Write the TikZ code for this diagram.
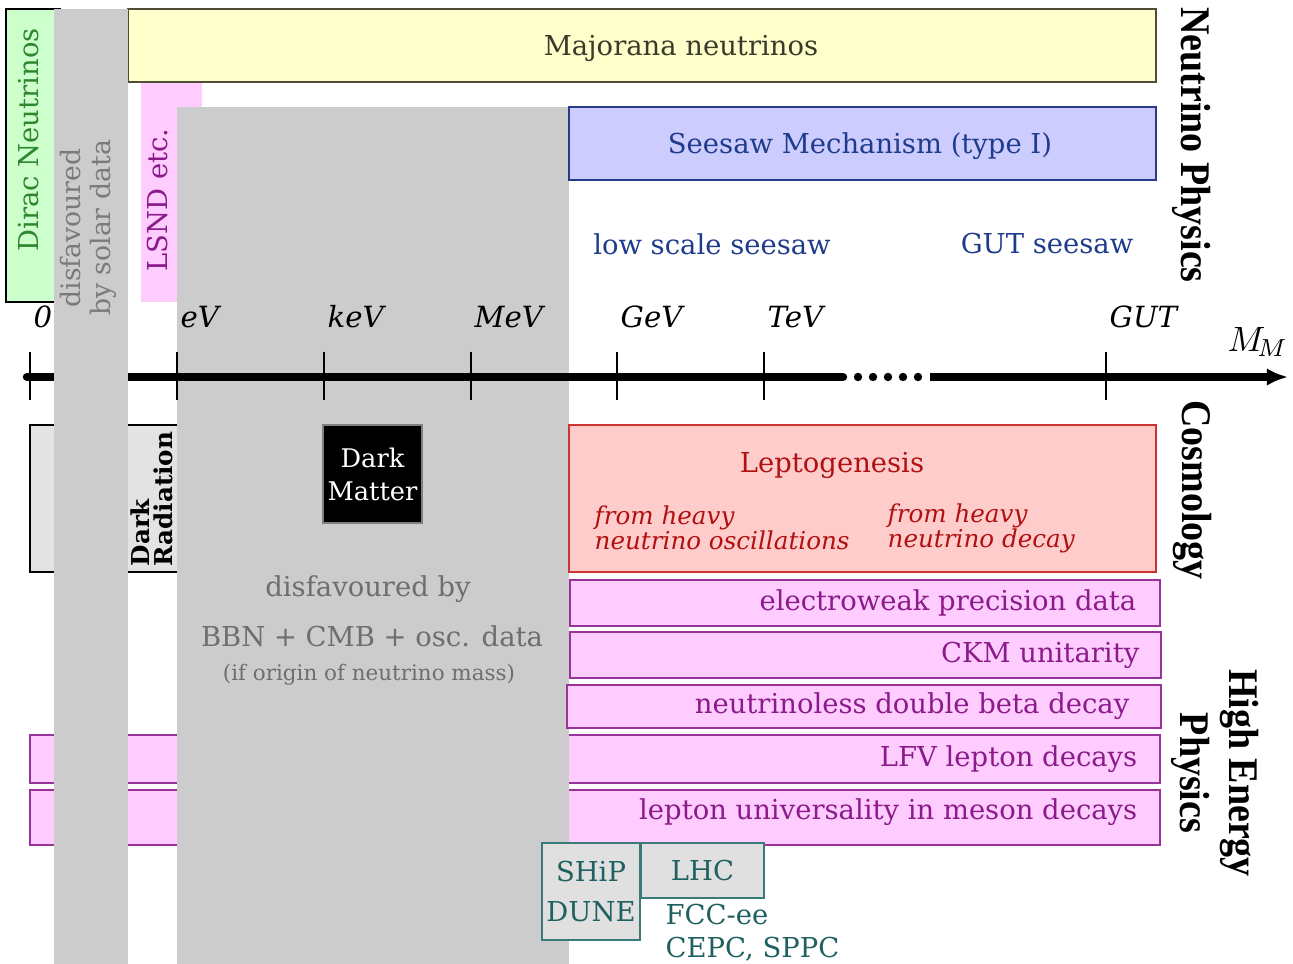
\documentclass[tikz,border=0pt]{standalone}
\usepackage{fontspec}
\setmainfont{DejaVu Serif}
\newfontfamily\headfont[FakeStretch=0.9]{Liberation Serif}
\usetikzlibrary{arrows.meta}

\definecolor{diracfill}{HTML}{CCFFCC}
\definecolor{diractext}{HTML}{2F862F}
\definecolor{majfill}{HTML}{FFFFCC}
\definecolor{majline}{HTML}{4D4D3A}
\definecolor{majtext}{HTML}{3A3A2A}
\definecolor{lsndfill}{HTML}{FFCCFF}
\definecolor{lsndtext}{HTML}{8A1A8A}
\definecolor{disfav}{HTML}{CCCCCC}
\definecolor{soltext}{HTML}{7A7A7A}
\definecolor{bbntext}{HTML}{6E6E6E}
\definecolor{seefill}{HTML}{CCCCFF}
\definecolor{seeline}{HTML}{2A3A8A}
\definecolor{seetext}{HTML}{1F3B8C}
\definecolor{cosmofill}{HTML}{E3E3E3}
\definecolor{leptofill}{HTML}{FFCCCC}
\definecolor{leptoline}{HTML}{CC3333}
\definecolor{leptotext}{HTML}{B01010}
\definecolor{hepfill}{HTML}{FFCCFF}
\definecolor{hepline}{HTML}{993399}
\definecolor{heptext}{HTML}{8B1A8B}
\definecolor{tealline}{HTML}{3A7A7A}
\definecolor{tealtext}{HTML}{1F6060}
\definecolor{tealfill}{HTML}{E0E0E0}

\newcommand{\tightlines}{\lineskiplimit=-5pt\relax}

\begin{document}
\begin{tikzpicture}[>={Latex[length=6pt,width=5pt]}, x=0.01cm, y=-0.01cm,
	box/.style={draw, line width=0.5pt},
	hep/.style={box, draw=hepline, fill=hepfill},
	txt/.style={font=\fontsize{7.8}{9}\selectfont, inner sep=0pt},
	heptxt/.style={txt, text=heptext, anchor=east},
	axlbl/.style={font=\itshape\fontsize{8.3}{9}\selectfont, inner sep=0pt, anchor=base west},
	axtick/.style={line width=0.6pt},
	side/.style={font=\headfont\bfseries\fontsize{12}{14}\selectfont, rotate=-90, inner sep=0pt, align=center},
	expbox/.style={draw=tealline, fill=tealfill, line width=0.6pt, text=tealtext, align=center, inner sep=0pt}]
%	%%%	Help Lines
%	\draw [thin, help lines, step=100] (0,0) grid (1293,964);
	\useasboundingbox (0,0) rectangle (1293,964);
	%%%	Neutrino Physics
	\draw[box, fill=diracfill] (6,9) rectangle (60,302);
	\draw[box, draw=majline, fill=majfill] (128,9) rectangle (1156,82);
	\fill[lsndfill] (141,83) rectangle (202,302);
	%%%	Cosmology, High Energy (left parts)
	\draw[box, fill=cosmofill] (30,425) rectangle (190,572);
	\draw[hep] (30,735) rectangle (1160,783);
	\draw[hep] (30,790) rectangle (1160,845);
	%%%	BBN + CMB
	\fill[disfav] (177,107) rectangle (569,964);
	\draw[box, draw=seeline, fill=seefill] (569,107) rectangle (1156,180);
	\draw[box, draw=leptoline, fill=leptofill] (569,425) rectangle (1156,572);
	\draw[hep] (570,580) rectangle (1160,626);
	\draw[hep] (570,632) rectangle (1161,678);
	\draw[hep] (567,685) rectangle (1161,728);
	%%%	Axis
	\coordinate (a0) at (27,377);
	\coordinate (a1) at (843,377);
	\coordinate (a2) at (930,377);
	\coordinate (a3) at (1288,377);
	\draw[line width=2.4pt, line cap=round] (a0) -- (a1);
	\foreach \x in {858,873,...,918}
	\fill (\x,377) circle (1.2pt);
	\draw[->, line width=2.4pt] (a2) -- (a3);
	\foreach \x in {30,177,324,471,617,764,1106}
	\draw[axtick] (\x,352) -- (\x,400);
	\foreach \x/\l in {33/0,180/eV,327/keV,474/MeV,620/GeV,767/TeV,1109/GUT}
	\node[axlbl] (l\l) at (\x,328) {\l};
	\node[inner sep=0pt, font=\fontsize{10}{11}\selectfont] (mm) at (1258,342) {$M_{\!M}$};
	%%%	solar data
	\fill[disfav] (54,9) rectangle (128,964);
	%%%	Boxes on top
	\node[draw=gray, fill=black, text=white, line width=0.4pt, minimum width=0.99cm, minimum height=0.98cm, align=center, inner sep=0pt, font=\fontsize{7.3}{9.4}\selectfont] (dm) at (372.5,474) {Dark\\Matter};
	\node[expbox, minimum width=0.98cm, minimum height=0.97cm, font=\fontsize{7.8}{11.4}\selectfont] (ship) at (591,891.5) {SHiP\\DUNE};
	\node[expbox, minimum width=1.23cm, minimum height=0.55cm, font=\fontsize{7.8}{9}\selectfont] (lhc) at (702.5,870.5) {LHC};
	\node[txt, text=tealtext, anchor=north west, align=left, font=\fontsize{7.8}{9.4}\selectfont] (fcc) at (665,903) {FCC-ee\\CEPC, SPPC};
	%%%	Labels
	\node[txt, text=diractext, rotate=90] (dirac) at (29,140) {Dirac Neutrinos};
	\node[txt, text=soltext, rotate=90, align=center, font=\fontsize{7.6}{8.6}\selectfont] (solar) at (88,228) {disfavoured\\by solar data};
	\node[txt, text=majtext] (maj) at (681,48) {Majorana neutrinos};
	\node[txt, text=lsndtext, rotate=90] (lsnd) at (158,200) {LSND etc.};
	\node[txt, text=seetext] (see) at (860,146) {Seesaw Mechanism (type I)};
	\node[txt, text=seetext] (low) at (712,244) {low scale seesaw};
	\node[txt, text=seetext] (gut) at (1047,244) {GUT seesaw};
	\node[txt, rotate=90, align=left, anchor=north west, font=\bfseries\fontsize{7}{6.6}\selectfont\tightlines] (drad) at (130,567) {Dark\\Radiation};
	\node[txt, text=leptotext] (lepto) at (832,465) {Leptogenesis};
	\node[txt, text=leptotext, anchor=west, align=left, font=\itshape\fontsize{7}{7.1}\selectfont\tightlines] (osc) at (594,528) {from heavy\\neutrino oscillations};
	\node[txt, text=leptotext, anchor=west, align=left, font=\itshape\fontsize{7}{7.1}\selectfont\tightlines] (dec) at (887,528) {from heavy\\neutrino decay};
	\node[txt, text=bbntext] (bbn1) at (368,589) {disfavoured by};
	\node[txt, text=bbntext] (bbn2) at (372,636) {BBN + CMB + osc. data};
	\node[txt, text=bbntext, font=\fontsize{6.1}{7}\selectfont] (bbn3) at (369,675) {(if origin of neutrino mass)};
	\node[heptxt] (ew) at (1137,603) {electroweak precision data};
	\node[heptxt] (ckm) at (1140,655) {CKM unitarity};
	\node[heptxt] (bb) at (1130,706) {neutrinoless double beta decay};
	\node[heptxt] (lfv) at (1138,759) {LFV lepton decays};
	\node[heptxt] (lu) at (1138,812) {lepton universality in meson decays};
	%%%	Side titles
	\node[side] (np) at (1192,145) {Neutrino Physics};
	\node[side] (cos) at (1192,490) {Cosmology};
	\node[side] (hep) at (1215,773) {High Energy\\Physics};
\end{tikzpicture}
\end{document}
